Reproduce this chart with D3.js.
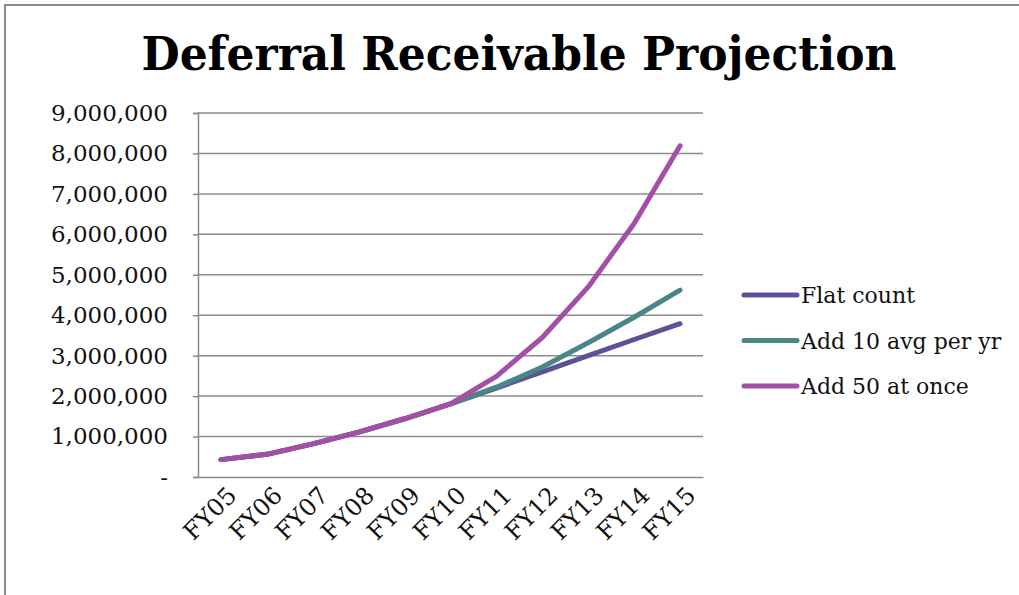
<!DOCTYPE html>
<html>
<head>
<meta charset="utf-8">
<script src="https://cdn.jsdelivr.net/npm/d3@7"></script>
<style>
  html, body { margin: 0; padding: 0; background: #fff; overflow: hidden; }
  svg { display: block; }
</style>
</head>
<body>
<svg id="chart" width="1019" height="595"></svg>
<script>
// Fiscal years on the category axis
const years = ["FY05", "FY06", "FY07", "FY08", "FY09", "FY10", "FY11", "FY12", "FY13", "FY14", "FY15"];

// Projected deferral receivable under three growth scenarios
const flatCount  = [430000, 560000, 820000, 1110000, 1440000, 1810000, 2200000, 2600000, 3000000, 3400000, 3790000];
const add10PerYr = [430000, 560000, 820000, 1110000, 1440000, 1810000, 2220000, 2720000, 3320000, 3950000, 4620000];
const add50Once  = [430000, 560000, 820000, 1110000, 1440000, 1810000, 2490000, 3450000, 4700000, 6270000, 8190000];

const seriesNames = ["Flat count", "Add 10 avg per yr", "Add 50 at once"];
const seriesColors = ["#5a5496", "#4a8588", "#a44fa6"];
const yTicks = [0, 1000000, 2000000, 3000000, 4000000, 5000000, 6000000, 7000000, 8000000, 9000000];

const series = [flatCount, add10PerYr, add50Once].map((values, i) => ({
  name: seriesNames[i],
  color: seriesColors[i],
  values
}));

const svg = d3.select("#chart");
const plot = { left: 198, right: 703, top: 113, bottom: 477 };

// Outer chart frame (continues past the right and bottom edges)
svg.append("rect")
  .attr("x", 5).attr("y", 5)
  .attr("width", 1060).attr("height", 640)
  .attr("fill", "none")
  .attr("stroke", "#8c8c8c")
  .attr("stroke-width", 2);

// Title
svg.append("text")
  .attr("x", 519).attr("y", 70)
  .attr("text-anchor", "middle")
  .attr("font-family", "'DejaVu Serif Condensed', 'DejaVu Serif', serif")
  .attr("font-weight", "bold")
  .attr("font-size", 46)
  .attr("textLength", 755)
  .attr("lengthAdjust", "spacingAndGlyphs")
  .attr("fill", "#000")
  .text("Deferral Receivable Projection");

const x = d3.scaleBand().domain(years).range([plot.left, plot.right]);
const y = d3.scaleLinear().domain([0, 9000000]).range([plot.bottom, plot.top]);

// Horizontal gridlines
svg.append("g")
  .selectAll("line")
  .data(yTicks.filter(d => d > 0))
  .join("line")
  .attr("x1", plot.left).attr("x2", plot.right)
  .attr("y1", d => y(d)).attr("y2", d => y(d))
  .attr("stroke", "#8c8c8c")
  .attr("stroke-width", 1.5);

// Value axis
const yAxis = svg.append("g")
  .attr("transform", `translate(${plot.left},0)`)
  .call(d3.axisLeft(y)
    .tickValues(yTicks)
    .tickSize(5)
    .tickPadding(25)
    .tickFormat(d => d === 0 ? "-" : d3.format(",")(d)));
yAxis.select(".domain").attr("stroke", "#8c8c8c").attr("stroke-width", 1.5);
yAxis.selectAll(".tick line").attr("stroke", "#8c8c8c").attr("stroke-width", 1.5);
yAxis.selectAll(".tick text")
  .attr("font-family", "'DejaVu Serif', serif")
  .attr("font-size", 23)
  .attr("fill", "#111");

// Category axis
const xAxis = svg.append("g")
  .attr("transform", `translate(0,${plot.bottom})`)
  .call(d3.axisBottom(x).tickSize(0).tickPadding(0));
xAxis.select(".domain").attr("stroke", "#8c8c8c").attr("stroke-width", 1.5);
xAxis.selectAll(".tick text")
  .attr("font-family", "'DejaVu Serif', serif")
  .attr("font-size", 24)
  .attr("fill", "#111")
  .attr("text-anchor", "end")
  .attr("dy", null)
  .attr("transform", "translate(17,20) rotate(-45)");

// Series lines
const line = d3.line()
  .x((d, i) => x(years[i]) + x.bandwidth() / 2)
  .y(d => y(d));

svg.append("g")
  .selectAll("path")
  .data(series)
  .join("path")
  .attr("d", d => line(d.values))
  .attr("fill", "none")
  .attr("stroke", d => d.color)
  .attr("stroke-width", 5)
  .attr("stroke-linecap", "round")
  .attr("stroke-linejoin", "round");

// Legend
const legend = svg.append("g")
  .selectAll("g")
  .data(series)
  .join("g")
  .attr("transform", (d, i) => `translate(744,${295 + i * 45.5})`);
legend.append("line")
  .attr("x1", 0).attr("x2", 53)
  .attr("stroke", d => d.color)
  .attr("stroke-width", 5)
  .attr("stroke-linecap", "round");
legend.append("text")
  .attr("x", 57).attr("y", 8)
  .attr("font-family", "'DejaVu Serif', serif")
  .attr("font-size", 22)
  .attr("fill", "#111")
  .text(d => d.name);
</script>
</body>
</html>
